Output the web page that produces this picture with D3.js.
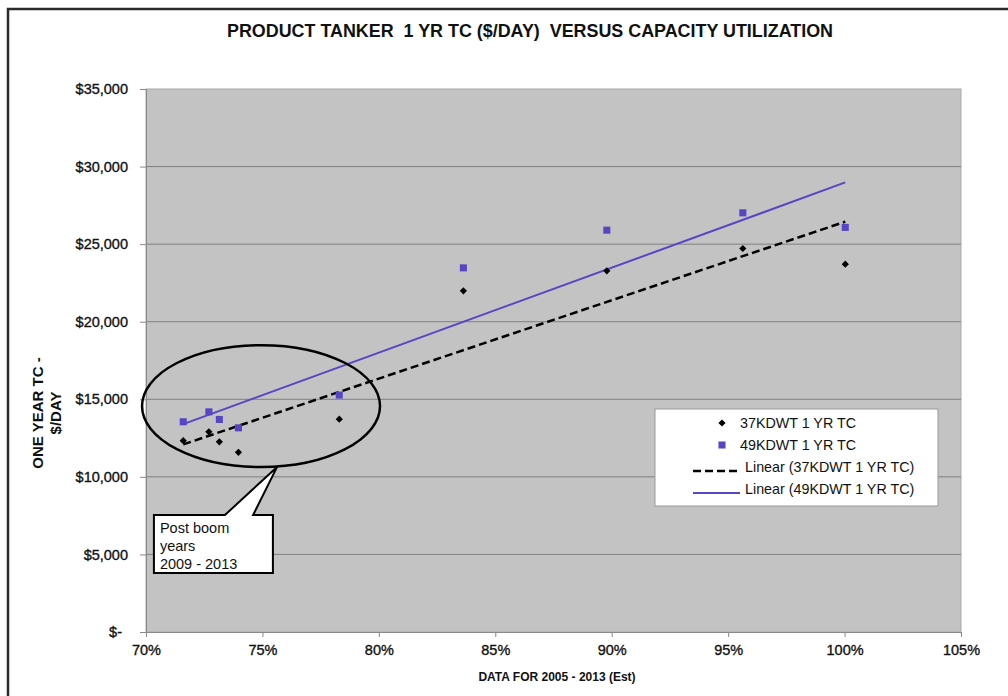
<html>
<head>
<script src='https://d3js.org/d3.v7.min.js'></script>
<style>
  body { margin:0; background:#fff; }
  svg { display:block; font-family: "Liberation Sans", Arial, sans-serif; }
</style>
</head>
<body>
<svg width=1008 height=696></svg>
<script>

// capacity utilization (%) for 2005 - 2013 (Est)
var utilization = [71.6, 72.7, 73.15, 73.97, 78.3, 83.63, 89.79, 95.63, 100.03];
// 1 yr TC in $/day
var tc37 = [12330, 12900, 12260, 11580, 13720, 21990, 23280, 24720, 23710];
var tc49 = [13550, 14190, 13700, 13160, 15270, 23470, 25900, 27020, 26080];

var xTicks = [70, 75, 80, 85, 90, 95, 100, 105];
var yTicks = [0, 5000, 10000, 15000, 20000, 25000, 30000, 35000];

var seriesNames = ["37KDWT 1 YR TC", "49KDWT 1 YR TC"];
var calloutText = ["Post boom", "years", "2009 - 2013"];

var svg = d3.select("svg");

var plotLeft = 146, plotRight = 961, plotTop = 89, plotBottom = 632;

var x = d3.scaleLinear().domain([70, 105]).range([plotLeft, plotRight]);
var y = d3.scaleLinear().domain([0, 35000]).range([plotBottom, plotTop]);

// outer frame (only left and top visible)
svg.append("rect")
  .attr("x", 8).attr("y", 9)
  .attr("width", 1100).attr("height", 800)
  .attr("fill", "none")
  .attr("stroke", "#2b2b2b")
  .attr("stroke-width", 2.5);

// title
svg.append("text")
  .attr("x", 530).attr("y", 37)
  .attr("text-anchor", "middle")
  .style("font-size", "17.9px")
  .style("font-weight", "bold")
  .style("white-space", "pre")
  .attr("fill", "#111")
  .text("PRODUCT TANKER  1 YR TC ($/DAY)  VERSUS CAPACITY UTILIZATION");

// plot area
svg.append("rect")
  .attr("x", plotLeft).attr("y", plotTop)
  .attr("width", plotRight - plotLeft).attr("height", plotBottom - plotTop)
  .attr("fill", "#c4c3c3")
  .attr("stroke", "#a9a9a9")
  .attr("stroke-width", 1);

// gridlines
svg.append("g").selectAll("line").data(yTicks.slice(1, -1)).enter().append("line")
  .attr("x1", plotLeft).attr("x2", plotRight)
  .attr("y1", function(d) {return y(d);})
  .attr("y2", function(d) {return y(d);})
  .attr("stroke", "#808080")
  .attr("stroke-width", 1);

// y axis
var yaxis = svg.append("g")
  .attr("transform", "translate(" + plotLeft + ",0)")
  .call(d3.axisLeft(y).tickValues(yTicks).tickSize(6).tickPadding(12)
    .tickFormat(function(d) {return d === 0 ? "$-" : "$" + d3.format(",")(d);}));
yaxis.select(".domain").attr("stroke", "#888");
yaxis.selectAll(".tick line").attr("stroke", "#888");
yaxis.selectAll("text")
  .style("font-size", "14.5px")
  .style("font-family", "Liberation Sans, Arial, sans-serif")
  .attr("fill", "#111")
  .attr("stroke", "#111").attr("stroke-width", 0.35)
  .attr("dx", function(d) {return d === 0 ? -6 : 0;});

// x axis
var xaxis = svg.append("g")
  .attr("transform", "translate(0," + plotBottom + ")")
  .call(d3.axisBottom(x).tickValues(xTicks).tickSize(5).tickPadding(8)
    .tickFormat(function(d) {return d + "%";}));
xaxis.select(".domain").attr("stroke", "#888");
xaxis.selectAll(".tick line").attr("stroke", "#888");
xaxis.selectAll("text")
  .style("font-size", "14.5px")
  .style("font-family", "Liberation Sans, Arial, sans-serif")
  .attr("fill", "#111")
  .attr("stroke", "#111").attr("stroke-width", 0.35);

// axis titles
svg.append("text")
  .attr("x", 557).attr("y", 681)
  .attr("text-anchor", "middle")
  .style("font-size", "12px")
  .style("font-weight", "bold")
  .attr("fill", "#111")
  .text("DATA FOR 2005 - 2013 (Est)");

var ytitle = svg.append("text")
  .attr("transform", "translate(43,413) rotate(-90)")
  .attr("text-anchor", "middle")
  .style("font-size", "15px")
  .style("font-weight", "bold")
  .attr("fill", "#111");
ytitle.append("tspan").attr("x", 0).attr("y", 0).text("ONE YEAR TC -");
ytitle.append("tspan").attr("x", 0).attr("y", 18).text("$/DAY");

// linear trendlines (least squares, drawn over the data range)
function fit(xs, ys) {
  var mx = d3.mean(xs), my = d3.mean(ys);
  var sxy = d3.sum(xs, function(v, i) {return (v - mx) * (ys[i] - my);});
  var sxx = d3.sum(xs, function(v) {return (v - mx) * (v - mx);});
  var b = sxy / sxx;
  var a = my - b * mx;
  var ext = d3.extent(xs);
  return ext.map(function(v) {return [v, a + b * v];});
}

var blue = "#5646c4";
var line = d3.line().x(function(d) {return x(d[0]);}).y(function(d) {return y(d[1]);});

svg.append("path")
  .datum(fit(utilization, tc49))
  .attr("d", line)
  .attr("fill", "none")
  .attr("stroke", blue)
  .attr("stroke-width", 2);

svg.append("path")
  .datum(fit(utilization, tc37))
  .attr("d", line)
  .attr("fill", "none")
  .attr("stroke", "#000")
  .attr("stroke-width", 2.5)
  .attr("stroke-dasharray", "8,4");

// markers
var square = d3.symbol().type(d3.symbolSquare).size(50);
var diamond = d3.symbol().type(d3.symbolSquare).size(26);

svg.append("g").selectAll("path").data(tc49).enter().append("path")
  .attr("d", square)
  .attr("transform", function(d, i) {return "translate(" + x(utilization[i]) + "," + y(d) + ")";})
  .attr("fill", blue);

svg.append("g").selectAll("path").data(tc37).enter().append("path")
  .attr("d", diamond)
  .attr("transform", function(d, i) {return "translate(" + x(utilization[i]) + "," + y(d) + ") rotate(45)";})
  .attr("fill", "#000");

// annotation: ellipse round the post boom years
svg.append("ellipse")
  .attr("cx", x(74.94)).attr("cy", y(14560))
  .attr("rx", x(74.94 + 5.11) - x(74.94))
  .attr("ry", y(14560) - y(14560 + 3930))
  .attr("fill", "none")
  .attr("stroke", "#000")
  .attr("stroke-width", 2.5);

// callout box with pointer
var bx0 = x(70.34), bx1 = x(75.45), by0 = y(7540), by1 = y(3800);
var callout = d3.path();
callout.moveTo(bx0, by0);
callout.lineTo(x(73.39), by0);
callout.lineTo(x(75.63), y(10640));
callout.lineTo(x(74.6), by0);
callout.lineTo(bx1, by0);
callout.lineTo(bx1, by1);
callout.lineTo(bx0, by1);
callout.closePath();
svg.append("path")
  .attr("d", callout.toString())
  .attr("fill", "#fff")
  .attr("stroke", "#000")
  .attr("stroke-width", 2);

svg.append("g").selectAll("text").data(calloutText).enter().append("text")
  .attr("x", bx0 + 6)
  .attr("y", function(d, i) {return by0 + 18 + i * 18;})
  .style("font-size", "14.5px")
  .attr("fill", "#111")
  .text(function(d) {return d;});

// legend
var legx = 655, legy = 409;
svg.append("rect")
  .attr("x", legx).attr("y", legy)
  .attr("width", 283).attr("height", 97)
  .attr("fill", "#fff")
  .attr("stroke", "#999")
  .attr("stroke-width", 1);

svg.append("path")
  .attr("d", diamond)
  .attr("transform", "translate(" + (legx + 67) + "," + (legy + 14) + ") rotate(45)")
  .attr("fill", "#000");
svg.append("path")
  .attr("d", square)
  .attr("transform", "translate(" + (legx + 67) + "," + (legy + 36) + ")")
  .attr("fill", blue);
svg.append("line")
  .attr("x1", legx + 38).attr("x2", legx + 85)
  .attr("y1", legy + 62).attr("y2", legy + 62)
  .attr("stroke", "#000").attr("stroke-width", 2.5)
  .attr("stroke-dasharray", "8,4");
svg.append("line")
  .attr("x1", legx + 38).attr("x2", legx + 85)
  .attr("y1", legy + 84).attr("y2", legy + 84)
  .attr("stroke", blue).attr("stroke-width", 2);

var legendLabels = [seriesNames[0], seriesNames[1],
  "Linear (" + seriesNames[0] + ")", "Linear (" + seriesNames[1] + ")"];
svg.append("g").selectAll("text").data(legendLabels).enter().append("text")
  .attr("x", function(d, i) {return i < 2 ? legx + 85 : legx + 90;})
  .attr("y", function(d, i) {return legy + 14 + i * 22;})
  .attr("dy", "0.35em")
  .style("font-size", "14.3px")
  .attr("fill", "#111")
  .text(function(d) {return d;});

</script>
</body>
</html>
